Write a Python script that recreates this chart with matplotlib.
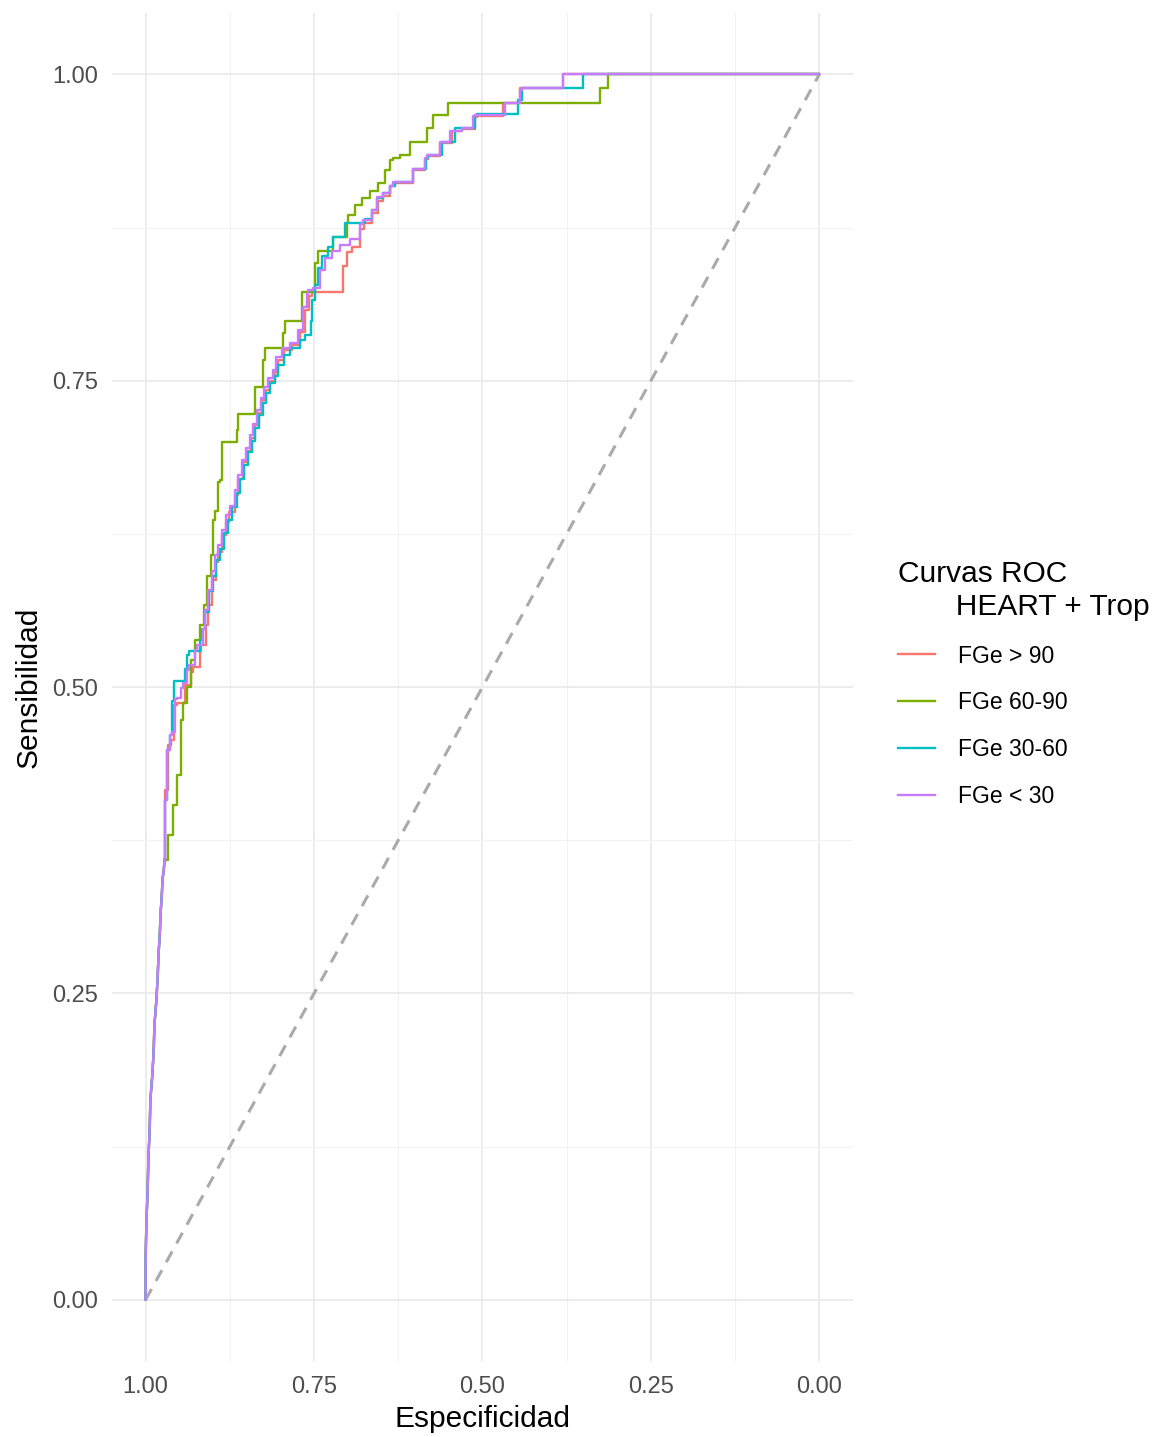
import numpy as np
import matplotlib
matplotlib.use('Agg')
import matplotlib.pyplot as plt

plt.rcParams['font.family'] = ['Liberation Sans', 'DejaVu Sans']

# tramo inicial comun a las cuatro curvas (sens 0 -> 0.36)
spec_low = [1.000, 1.000, 0.999, 0.997, 0.996, 0.994, 0.993, 0.990, 0.988, 0.987, 0.984, 0.982,
            0.981, 0.979, 0.978, 0.976, 0.975, 0.973]
sens_low = [0.000, 0.033, 0.061, 0.090, 0.114, 0.139, 0.163, 0.184, 0.204, 0.224, 0.245, 0.265,
            0.281, 0.298, 0.314, 0.330, 0.343, 0.351]

# Curvas ROC: especificidad / sensibilidad
spec_fge90 = [0.972, 0.967, 0.963, 0.958, 0.954,
              0.942, 0.941, 0.932, 0.929, 0.920, 0.918, 0.911, 0.908, 0.902, 0.896, 0.893, 0.887,
              0.881, 0.877, 0.868, 0.863, 0.856, 0.850, 0.844, 0.837, 0.832, 0.828, 0.822, 0.816,
              0.808, 0.804, 0.795, 0.783, 0.771, 0.764, 0.758, 0.753, 0.746, 0.707, 0.707, 0.701,
              0.694, 0.682, 0.676, 0.664, 0.655, 0.648, 0.637, 0.630, 0.620, 0.603, 0.599, 0.585,
              0.581, 0.563, 0.559, 0.545, 0.530, 0.511, 0.508, 0.492, 0.470, 0.467, 0.444, 0.440,
              0.380, 0.377, 0.000]
sens_fge90 = [0.359, 0.416, 0.453, 0.457, 0.485,
              0.487, 0.498, 0.502, 0.512, 0.516, 0.529, 0.534, 0.551, 0.567, 0.587, 0.602, 0.610,
              0.624, 0.635, 0.643, 0.657, 0.670, 0.684, 0.693, 0.703, 0.714, 0.724, 0.734, 0.742,
              0.750, 0.757, 0.767, 0.775, 0.779, 0.790, 0.808, 0.819, 0.822, 0.822, 0.834, 0.844,
              0.855, 0.859, 0.874, 0.879, 0.887, 0.897, 0.901, 0.909, 0.911, 0.911, 0.922, 0.922,
              0.931, 0.933, 0.944, 0.944, 0.954, 0.955, 0.965, 0.966, 0.966, 0.977, 0.977, 0.989,
              0.989, 1.000, 1.000]

spec_fge60 = [0.972, 0.967, 0.967, 0.960, 0.960,
              0.954, 0.954, 0.947, 0.944, 0.942, 0.938, 0.938, 0.932, 0.926, 0.920, 0.914, 0.909,
              0.903, 0.900, 0.897, 0.893, 0.890, 0.887, 0.886, 0.865, 0.863, 0.860, 0.838, 0.837,
              0.826, 0.823, 0.819, 0.796, 0.793, 0.790, 0.768, 0.767, 0.749, 0.744, 0.741, 0.722,
              0.722, 0.701, 0.700, 0.689, 0.679, 0.667, 0.655, 0.645, 0.637, 0.633, 0.623, 0.608,
              0.605, 0.582, 0.581, 0.574, 0.571, 0.551, 0.548, 0.325, 0.324, 0.314, 0.312, 0.000]
sens_fge60 = [0.359, 0.359, 0.379, 0.379, 0.404,
              0.404, 0.428, 0.428, 0.473, 0.487, 0.487, 0.500, 0.500, 0.522, 0.538, 0.551, 0.567,
              0.591, 0.608, 0.636, 0.644, 0.667, 0.669, 0.700, 0.700, 0.710, 0.723, 0.723, 0.732,
              0.745, 0.767, 0.777, 0.777, 0.789, 0.799, 0.799, 0.822, 0.822, 0.846, 0.856, 0.856,
              0.867, 0.867, 0.879, 0.885, 0.893, 0.899, 0.905, 0.911, 0.922, 0.930, 0.932, 0.934,
              0.945, 0.945, 0.956, 0.956, 0.967, 0.967, 0.977, 0.977, 0.989, 0.989, 1.000, 1.000]

spec_fge30 = [0.972, 0.969, 0.964, 0.961, 0.958,
              0.955, 0.941, 0.939, 0.935, 0.920, 0.917, 0.912, 0.906, 0.900, 0.895, 0.890, 0.884,
              0.878, 0.872, 0.865, 0.860, 0.854, 0.848, 0.842, 0.837, 0.831, 0.826, 0.822, 0.816,
              0.808, 0.804, 0.795, 0.786, 0.771, 0.764, 0.755, 0.753, 0.749, 0.744, 0.738, 0.730,
              0.722, 0.704, 0.704, 0.675, 0.664, 0.657, 0.648, 0.637, 0.630, 0.623, 0.603, 0.599,
              0.584, 0.581, 0.560, 0.556, 0.541, 0.536, 0.511, 0.508, 0.447, 0.447, 0.441, 0.440,
              0.351, 0.351, 0.000]
sens_fge30 = [0.359, 0.408, 0.449, 0.461, 0.489,
              0.505, 0.505, 0.515, 0.526, 0.529, 0.538, 0.547, 0.561, 0.578, 0.591, 0.604, 0.613,
              0.626, 0.636, 0.647, 0.658, 0.670, 0.681, 0.692, 0.701, 0.711, 0.722, 0.732, 0.740,
              0.748, 0.754, 0.763, 0.771, 0.777, 0.783, 0.787, 0.799, 0.816, 0.828, 0.842, 0.852,
              0.859, 0.867, 0.879, 0.879, 0.882, 0.889, 0.899, 0.903, 0.909, 0.912, 0.912, 0.923,
              0.923, 0.932, 0.934, 0.945, 0.945, 0.956, 0.956, 0.967, 0.968, 0.977, 0.979, 0.989,
              0.989, 1.000, 1.000]

spec_fge0 = [0.972, 0.969, 0.964, 0.961, 0.957,
             0.954, 0.947, 0.945, 0.938, 0.935, 0.927, 0.924, 0.915, 0.912, 0.908, 0.902, 0.897,
             0.893, 0.887, 0.881, 0.875, 0.868, 0.863, 0.857, 0.851, 0.845, 0.840, 0.834, 0.829,
             0.825, 0.819, 0.811, 0.807, 0.798, 0.786, 0.774, 0.767, 0.761, 0.759, 0.752, 0.741,
             0.734, 0.724, 0.712, 0.697, 0.682, 0.678, 0.664, 0.657, 0.648, 0.637, 0.633, 0.623,
             0.603, 0.600, 0.585, 0.582, 0.563, 0.560, 0.548, 0.530, 0.514, 0.511, 0.492, 0.467,
             0.464, 0.444, 0.441, 0.440, 0.380, 0.377, 0.000]
sens_fge0 = [0.359, 0.408, 0.449, 0.461, 0.463,
             0.490, 0.491, 0.499, 0.503, 0.514, 0.518, 0.530, 0.534, 0.547, 0.563, 0.579, 0.595,
             0.608, 0.616, 0.628, 0.640, 0.648, 0.661, 0.673, 0.685, 0.695, 0.706, 0.715, 0.726,
             0.736, 0.745, 0.752, 0.759, 0.769, 0.777, 0.781, 0.791, 0.810, 0.821, 0.824, 0.826,
             0.840, 0.850, 0.856, 0.861, 0.866, 0.878, 0.881, 0.889, 0.900, 0.903, 0.909, 0.912,
             0.912, 0.923, 0.923, 0.932, 0.934, 0.945, 0.945, 0.954, 0.956, 0.966, 0.967, 0.967,
             0.977, 0.977, 0.987, 0.989, 0.989, 1.000, 1.000]

labels = ['FGe > 90', 'FGe 60-90', 'FGe 30-60', 'FGe < 30']
colors = ['#F8766D', '#7CAE00', '#00BFC4', '#C77CFF']
ticks = [1.00, 0.75, 0.50, 0.25, 0.00]
tick_labels = ['1.00', '0.75', '0.50', '0.25', '0.00']

curves = [(spec_fge90, sens_fge90), (spec_fge60, sens_fge60),
          (spec_fge30, sens_fge30), (spec_fge0, sens_fge0)]

fig = plt.figure(figsize=(11.59, 14.37), dpi=100)
ax = fig.add_axes([0.0966, 0.0529, 0.6394, 0.938])

# diagonal de referencia
ax.plot([1, 0], [0, 1], color='#AAAAAA', linestyle=(0, (4, 3)), linewidth=2.2, zorder=2)

for (sp, se), lab, col in zip(curves, labels, colors):
    # tramo inicial casi recto, resto en escalera
    ax.plot(spec_low + sp[:1], sens_low + se[:1], color=col, linewidth=1.7, zorder=3)
    ax.plot(sp, se, color=col, linewidth=1.7, label=lab, zorder=3, drawstyle='steps-pre')

ax.set_xlim(1.05, -0.05)
ax.set_ylim(-0.05, 1.05)
ax.set_xticks(ticks)
ax.set_xticklabels(tick_labels)
ax.set_yticks(ticks[::-1])
ax.set_yticklabels(tick_labels[::-1])
ax.set_xticks([0.875, 0.625, 0.375, 0.125], minor=True)
ax.set_yticks([0.125, 0.375, 0.625, 0.875], minor=True)
ax.grid(True, which='major', color='#EBEBEB', linewidth=1.3)
ax.grid(True, which='minor', color='#F2F2F2', linewidth=0.8)
ax.set_axisbelow(True)
for s in ax.spines.values():
    s.set_visible(False)
ax.tick_params(which='both', length=0)
ax.tick_params(axis='x', labelsize=17, labelcolor='#4D4D4D', pad=11)
ax.tick_params(axis='y', labelsize=17, labelcolor='#4D4D4D', pad=10)

ax.set_xlabel('Especificidad', fontsize=21.5, color='black', labelpad=5)
ax.set_ylabel('Sensibilidad', fontsize=21.5, color='black', labelpad=7)

leg = ax.legend(loc='upper left', bbox_to_anchor=(0.765, 0.618), bbox_transform=fig.transFigure,
                title='Curvas ROC\n       HEART + Trop', title_fontsize=21.5, fontsize=16.5,
                frameon=False, handlelength=1.6, handletextpad=1.0, labelspacing=1.035,
                borderpad=0, alignment='left')
leg.get_title().set_linespacing(1.2)

fig.savefig('out.png', dpi=100, facecolor='white')
